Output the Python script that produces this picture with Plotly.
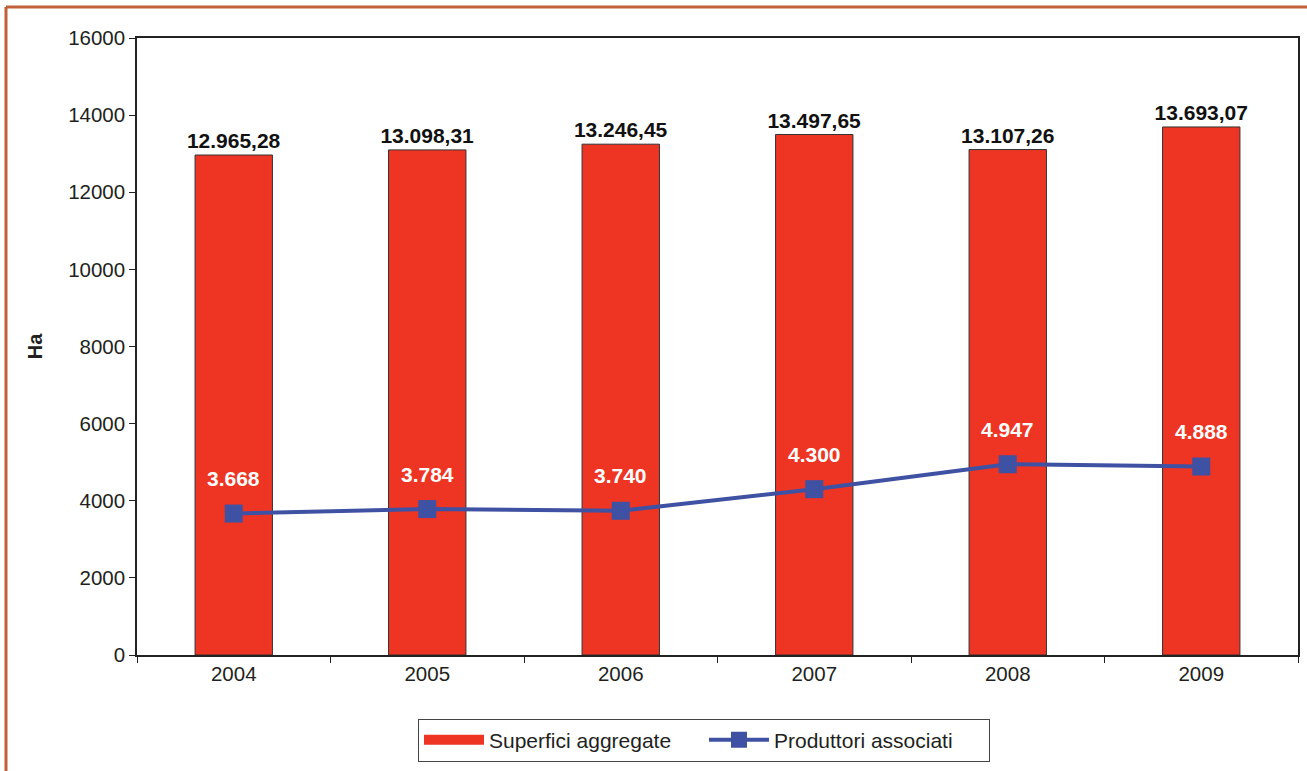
import plotly.graph_objects as go

# Dati
anni = ["2004", "2005", "2006", "2007", "2008", "2009"]
superfici = [12965.28, 13098.31, 13246.45, 13497.65, 13107.26, 13693.07]
produttori = [3668, 3784, 3740, 4300, 4947, 4888]
y_ticks = [0, 2000, 4000, 6000, 8000, 10000, 12000, 14000, 16000]


def fmt_it(v, dec):
    s = f"{v:,.{dec}f}"
    return s.replace(",", "X").replace(".", ",").replace("X", ".")


W, H = 1307, 771
L, R, T, B = 137, 9, 38, 116
plot_w = W - L - R
plot_h = H - T - B

FONT = "Liberation Sans, Arial, sans-serif"
RED = "#EE3524"
BLUE = "#3F51A3"
TXT = "#231F20"

fig = go.Figure()

fig.add_trace(go.Bar(
    x=anni, y=superfici, name="Superfici aggregate",
    marker=dict(color=RED, line=dict(color="#333333", width=1)),
    width=0.4,
    text=[fmt_it(v, 2) for v in superfici],
    textposition="outside",
    constraintext="none",
    textfont=dict(family=FONT, size=21, color="#111111"),
    texttemplate="<b>%{text}</b>",
    cliponaxis=False,
    showlegend=False,
))

# voce di legenda rettangolare per le barre
fig.add_trace(go.Scatter(
    x=[None], y=[None], name="Superfici aggregate", mode="lines",
    line=dict(color=RED, width=15), showlegend=True,
))

fig.add_trace(go.Scatter(
    x=anni, y=produttori, name="Produttori associati",
    mode="lines+markers",
    line=dict(color=BLUE, width=4),
    marker=dict(symbol="square", size=18, color=BLUE),
))

# etichette bianche sopra i marcatori (x come indice di categoria)
for i, v in enumerate(produttori):
    fig.add_annotation(
        x=i, y=v, text=f"<b>{fmt_it(v, 0)}</b>", showarrow=False,
        yshift=35, font=dict(family=FONT, size=21, color="white"),
    )

# Cornice esterna (lati sinistro e superiore)
x_left = (6 - L) / plot_w
y_top = (H - B - 7) / plot_h
fig.add_shape(type="line", xref="paper", yref="paper",
              x0=x_left, x1=x_left, y0=y_top, y1=-0.3,
              line=dict(color="#C0603A", width=3))
fig.add_shape(type="line", xref="paper", yref="paper",
              x0=x_left, x1=1.05, y0=y_top, y1=y_top,
              line=dict(color="#C0603A", width=3))

fig.update_layout(
    width=W, height=H,
    margin=dict(l=L, r=R, t=T, b=B, autoexpand=False),
    paper_bgcolor="white", plot_bgcolor="white",
    font=dict(family=FONT, size=20, color=TXT),
    showlegend=True,
    legend=dict(
        orientation="h", x=(704 - L) / plot_w, xanchor="center",
        y=(H - B - 740) / plot_h, yanchor="middle",
        bordercolor="#444444", borderwidth=1, font=dict(size=21, color=TXT),
        itemwidth=60, entrywidth=210, traceorder="normal",
    ),
    xaxis=dict(
        type="category", range=[-0.5, len(anni) - 0.5],
        showline=True, linecolor="#222222", linewidth=1.5, mirror=True,
        ticks="outside", ticklen=6, tickson="boundaries", tickcolor="#222222",
        tickfont=dict(size=20.5, color=TXT),
    ),
    yaxis=dict(
        range=[0, 16000], tickvals=y_ticks, tickformat="d", showgrid=False,
        showline=True, linecolor="#222222", linewidth=1.5, mirror=True,
        ticks="outside", ticklen=6, tickcolor="#222222",
        tickfont=dict(size=20.5, color=TXT),
        title=dict(text="<b>Ha</b>", font=dict(size=20, color=TXT), standoff=20),
        zeroline=False,
    ),
    bargap=0.6,
)

fig.write_html("out.html")
